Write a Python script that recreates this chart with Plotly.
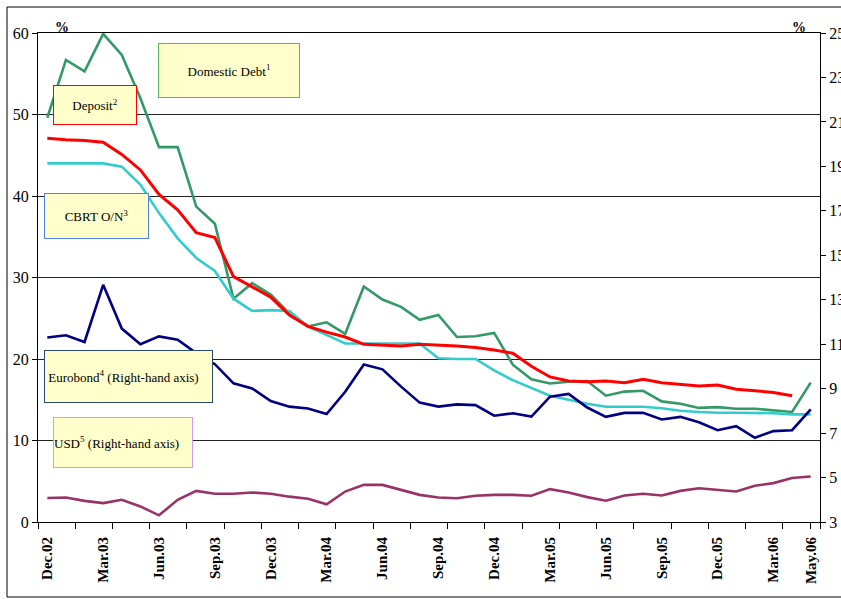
import plotly.graph_objects as go

# Monthly observations, Dec 2002 - May 2006
months = [
    "Dec.02",
    "Jan.03", "Feb.03", "Mar.03", "Apr.03", "May.03", "Jun.03",
    "Jul.03", "Aug.03", "Sep.03", "Oct.03", "Nov.03", "Dec.03",
    "Jan.04", "Feb.04", "Mar.04", "Apr.04", "May.04", "Jun.04",
    "Jul.04", "Aug.04", "Sep.04", "Oct.04", "Nov.04", "Dec.04",
    "Jan.05", "Feb.05", "Mar.05", "Apr.05", "May.05", "Jun.05",
    "Jul.05", "Aug.05", "Sep.05", "Oct.05", "Nov.05", "Dec.05",
    "Jan.06", "Feb.06", "Mar.06", "Apr.06", "May.06",
]

# Left-hand axis series (%)
domestic_debt = [49.6, 56.7, 55.3, 59.9, 57.3, 52.0, 46.0, 46.0, 38.7, 36.6,
                 27.4, 29.3, 27.9, 25.6, 24.0, 24.5, 23.1, 28.9, 27.3, 26.4,
                 24.8, 25.4, 22.7, 22.8, 23.2, 19.3, 17.5, 17.0, 17.2, 17.3,
                 15.5, 16.0, 16.1, 14.8, 14.5, 14.0, 14.1, 13.9, 13.9, 13.7,
                 13.5, 17.1]
deposit = [47.1, 46.9, 46.8, 46.6, 45.1, 43.2, 40.2, 38.3, 35.5, 34.9,
           30.1, 28.9, 27.6, 25.4, 24.0, 23.3, 22.7, 21.8, 21.7, 21.6,
           21.8, 21.7, 21.6, 21.4, 21.1, 20.7, 19.1, 17.8, 17.3, 17.2,
           17.3, 17.1, 17.5, 17.1, 16.9, 16.7, 16.8, 16.3, 16.1, 15.9,
           15.5, None]
cbrt_on = [44.0, 44.0, 44.0, 44.0, 43.6, 41.4, 37.9, 34.8, 32.4, 30.8,
           27.4, 25.9, 26.0, 25.9, 24.0, 22.9, 21.9, 21.9, 21.9, 21.9,
           21.9, 20.1, 20.0, 20.0, 18.6, 17.4, 16.4, 15.5, 15.0, 14.5,
           14.15, 14.15, 14.15, 13.95, 13.65, 13.5, 13.4, 13.4, 13.35, 13.35,
           13.2, 13.2]

# Right-hand axis series (%)
eurobond = [11.3, 11.4, 11.1, 13.67, 11.7, 11.0, 11.35, 11.2, 10.6, 10.1,
            9.24, 9.01, 8.44, 8.19, 8.11, 7.86, 8.86, 10.09, 9.87, 9.09,
            8.37, 8.19, 8.29, 8.26, 7.78, 7.89, 7.74, 8.64, 8.76, 8.15,
            7.73, 7.91, 7.91, 7.61, 7.73, 7.49, 7.13, 7.31, 6.79, 7.09,
            7.13, 8.07]
usd = [4.08, 4.1, 3.95, 3.85, 4.0, 3.7, 3.3, 4.0, 4.4, 4.27,
       4.27, 4.33, 4.27, 4.14, 4.05, 3.80, 4.37, 4.67, 4.67, 4.45,
       4.22, 4.10, 4.07, 4.18, 4.22, 4.22, 4.18, 4.48, 4.33, 4.12,
       3.96, 4.19, 4.27, 4.19, 4.40, 4.52, 4.45, 4.37, 4.63, 4.75,
       4.98, 5.05]

tick_months = ["Dec.02", "Mar.03", "Jun.03", "Sep.03", "Dec.03", "Mar.04",
               "Jun.04", "Sep.04", "Dec.04", "Mar.05", "Jun.05", "Sep.05",
               "Dec.05", "Mar.06", "May.06"]

x = list(range(len(months)))
tickvals = [months.index(m) for m in tick_months]

FONT = "Liberation Serif"
W, H = 841, 599
L, R, T, B = 38, 21, 33, 77
PW, PH = W - L - R, H - T - B


def px(v):
    return (v - L) / PW


def py(v):
    return (H - B - v) / PH


fig = go.Figure()

series = [
    ("Domestic Debt", domestic_debt, "#339966", 2.6, "y"),
    ("CBRT O/N", cbrt_on, "#33CCCC", 2.6, "y"),
    ("Deposit", deposit, "#FF0000", 3.0, "y"),
    ("Eurobond", eurobond, "#000080", 2.6, "y2"),
    ("USD", usd, "#993366", 2.6, "y2"),
]
for name, vals, color, w, axis in series:
    fig.add_trace(go.Scatter(
        x=x, y=vals, name=name, mode="lines", yaxis=axis,
        line=dict(color=color, width=w), connectgaps=False,
        showlegend=False,
    ))

# Boundary tick marks every two months
minor_ticks = [i - 0.5 for i in range(0, len(months) + 1, 2)] + [len(months) - 1]

fig.update_layout(
    width=W, height=H,
    margin=dict(l=L, r=R, t=T, b=B, autoexpand=False),
    paper_bgcolor="white", plot_bgcolor="white",
    font=dict(family=FONT, color="black"),
    xaxis=dict(
        automargin=False,
        range=[-0.5, len(months) - 0.5],
        tickmode="array", tickvals=tickvals, ticktext=tick_months,
        tickangle=-90, ticks="outside", ticklen=0,
        ticklabelstandoff=8,
        tickfont=dict(family=FONT, size=15, color="black", weight="bold"),
        showline=True, linecolor="black", linewidth=1, mirror=True,
        showgrid=False, zeroline=False,
        minor=dict(tickmode="array", tickvals=minor_ticks, ticks="outside",
                   ticklen=6, tickcolor="black", tickwidth=1, showgrid=False),
    ),
    yaxis=dict(
        automargin=False,
        range=[0, 60], tickmode="linear", tick0=0, dtick=10,
        ticks="outside", ticklen=5, tickcolor="black",
        tickfont=dict(family=FONT, size=16, color="black"),
        showline=True, linecolor="black", linewidth=1,
        showgrid=True, gridcolor="#222222", gridwidth=1, zeroline=False,
    ),
    yaxis2=dict(
        automargin=False,
        range=[3, 25], tickmode="linear", tick0=3, dtick=2,
        overlaying="y", side="right", anchor="x",
        ticks="outside", ticklen=5, tickcolor="black",
        tickfont=dict(family=FONT, size=16, color="black"),
        showline=True, linecolor="black", linewidth=1,
        showgrid=False, zeroline=False,
    ),
)

# Outer frame
fig.add_shape(type="rect", xref="paper", yref="paper",
              x0=px(7), x1=px(870), y0=py(597), y1=py(7),
              line=dict(color="black", width=1), fillcolor="rgba(0,0,0,0)",
              layer="below")

# Axis unit markers
for xpos in (53, 808):
    fig.add_annotation(x=px(xpos), y=py(18), xref="paper", yref="paper",
                       text="<b>%</b>", showarrow=False,
                       font=dict(family=FONT, size=14, color="black"))

# Series labels in boxes
boxes = [
    ("Domestic Debt<sup>1</sup>", 158, 43, 300, 98, "#5CB85C", "center"),
    ("Deposit<sup>2</sup>", 53, 85, 137, 125, "#FF0000", "center"),
    ("CBRT O/N<sup>3</sup>", 44, 193, 149, 239, "#4F7FE8", "center"),
    (" Eurobond<sup>4</sup> (Right-hand axis)", 44, 350, 213, 403, "#2B4A6F", "left"),
    ("USD<sup>5</sup> (Right-hand axis)", 53, 417, 193, 468, "#CC99FF", "left"),
]
for txt, x0, y0, x1, y1, border, align in boxes:
    fig.add_annotation(
        x=px(x0), y=py(y0), xref="paper", yref="paper",
        xanchor="left", yanchor="top",
        width=x1 - x0 - 2, height=y1 - y0 - 2,
        text=txt, showarrow=False, align=align, valign="middle",
        bgcolor="#FFFFCC", bordercolor=border, borderwidth=1, borderpad=0,
        font=dict(family=FONT, size=13, color="black"),
    )

fig.write_html("out.html")
